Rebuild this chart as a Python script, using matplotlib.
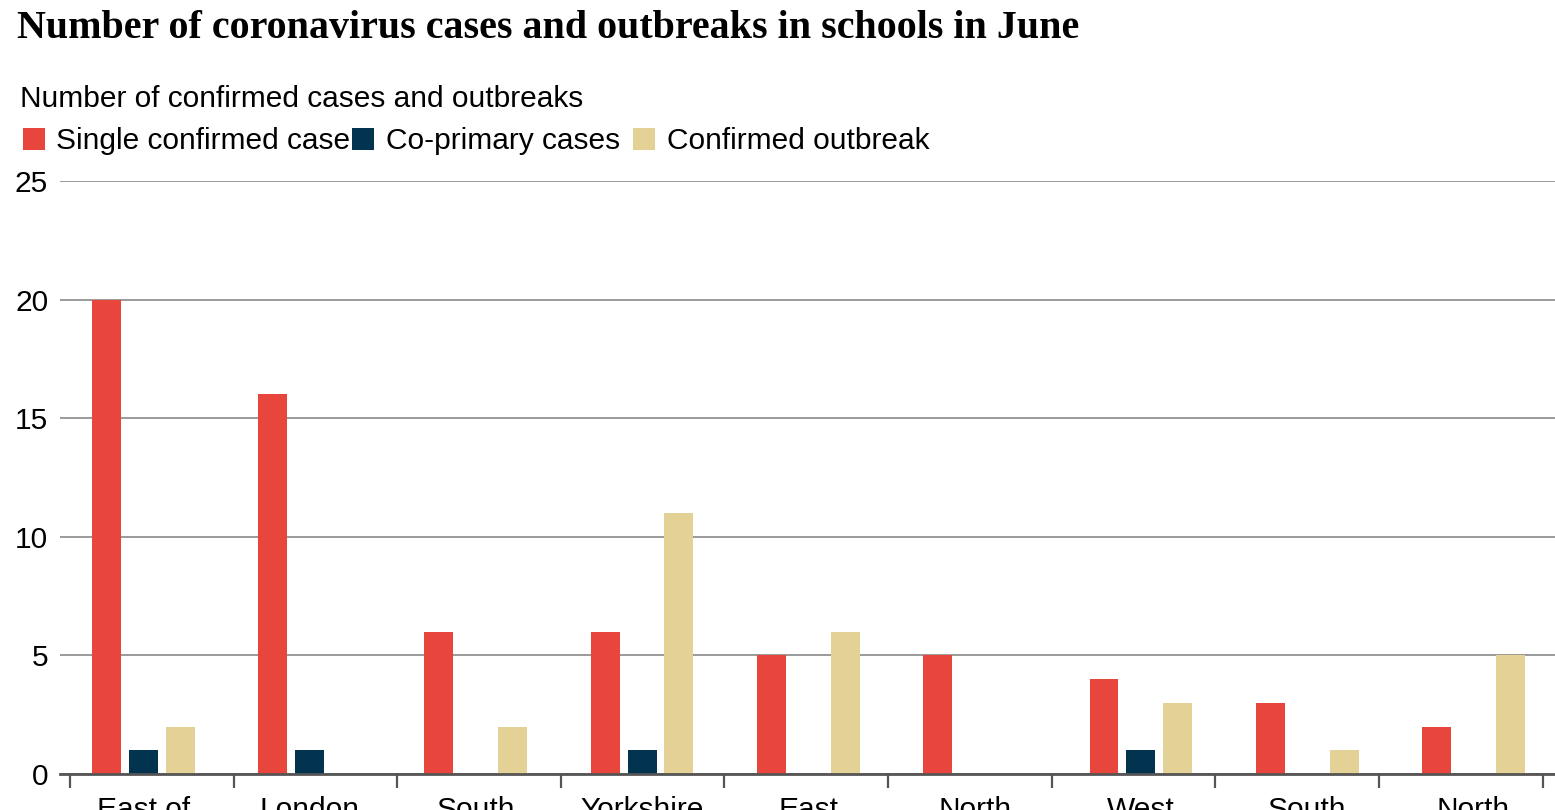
import numpy as np
import matplotlib
matplotlib.use("Agg")
import matplotlib.pyplot as plt
from matplotlib.patches import Rectangle

regions = ["East of\nEngland", "London", "South\nEast", "Yorkshire\nand the\nHumber",
           "East\nMidlands", "North\nWest", "West\nMidlands", "South\nWest", "North\nEast"]
single_case = [20, 16, 6, 6, 5, 5, 4, 3, 2]
co_primary = [1, 1, 0, 1, 0, 0, 1, 0, 0]
outbreak = [2, 0, 2, 11, 6, 0, 3, 1, 5]
series_names = ["Single confirmed case", "Co-primary cases", "Confirmed outbreak"]
colors = ["#E8463D", "#02344F", "#E3D195"]

W, H = 1555, 810
plt.rcParams['font.family'] = ['Liberation Sans', 'DejaVu Sans']

fig = plt.figure(figsize=(W / 100, H / 100), dpi=100)
ax = fig.add_axes([60 / W, 1 - 774 / H, 1 - 60 / W, (774 - 181) / H])

x = np.arange(len(regions))
bw = 0.174
step = 0.222
for k, vals in enumerate([single_case, co_primary, outbreak]):
    ax.bar(x + (k - 1) * step, vals, width=bw, color=colors[k], linewidth=0, zorder=3)

ax.set_xlim(-0.5, 8.49)
ax.set_ylim(0, 25)
ax.set_yticks([0, 5, 10, 15, 20, 25])
ax.tick_params(axis='y', length=0, pad=8.5, labelsize=21.5)
ax.grid(axis='y', color='#9a9a9a', linewidth=1.4, zorder=0)
ax.set_axisbelow(True)

# category labels at group centres, tick marks at group boundaries
ax.set_xticks(x)
ax.set_xticklabels(regions, fontsize=21.5)
ax.tick_params(axis='x', which='major', length=0, pad=16)
ax.set_xticks(np.linspace(-0.44, 8.415, len(regions) + 1), minor=True)
ax.tick_params(axis='x', which='minor', length=10, width=1.6, color='#555555')

for s in ['top', 'right', 'left']:
    ax.spines[s].set_visible(False)
ax.spines['bottom'].set_color('#555555')
ax.spines['bottom'].set_linewidth(2)
ax.spines['bottom'].set_zorder(4)

fig.text(17 / W, 1 - 37.7 / H, "Number of coronavirus cases and outbreaks in schools in June",
         fontsize=28.8, fontweight='bold', family=['Liberation Serif', 'DejaVu Serif'], va='baseline')
fig.text(20 / W, 1 - 106.7 / H, "Number of confirmed cases and outbreaks", fontsize=21.5, va='baseline')

# legend
sq_x = [23, 352, 633]
txt_x = [56, 386, 667]
for k in range(3):
    fig.patches.append(Rectangle((sq_x[k] / W, 1 - 150 / H), 22 / W, 22 / H,
                                 transform=fig.transFigure, color=colors[k], linewidth=0))
    fig.text(txt_x[k] / W, 1 - 149 / H, series_names[k], fontsize=21.5, va='baseline')

fig.savefig("out.png", dpi=100)
